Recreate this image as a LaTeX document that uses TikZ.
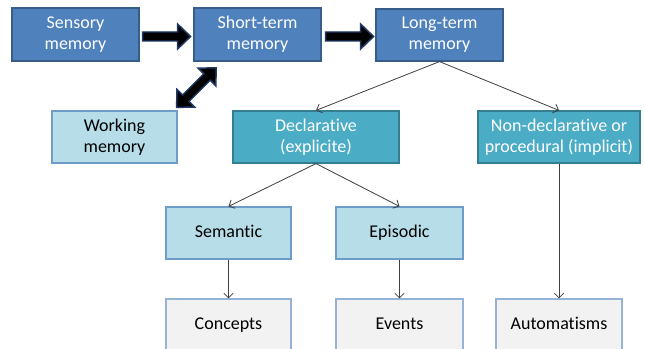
\documentclass[tikz,border=0pt]{standalone}
\usepackage{fontspec}
\setmainfont{Carlito}[Ligatures=NoCommon]
\usetikzlibrary{arrows.meta,calc}
\definecolor{dblue}{HTML}{4F81BD}
\definecolor{dblueB}{HTML}{385D8A}
\definecolor{teal}{HTML}{4BACC6}
\definecolor{tealB}{HTML}{357D91}
\definecolor{lblue}{HTML}{B7DEE8}
\definecolor{lblueB}{HTML}{6E9DC9}
\definecolor{lgray}{HTML}{F2F2F2}
\definecolor{lgrayB}{HTML}{95B3D7}
\definecolor{navy}{HTML}{1F3864}
\definecolor{arrgray}{HTML}{404040}
\begin{document}
\begin{tikzpicture}[x=0.75pt,y=-0.75pt,
  box/.style={draw, line width=0.9pt, inner sep=2pt, align=center,
    font=\fontsize{13.5}{16}\selectfont},
  oneline/.style={text height=8pt, text depth=1.3pt},
  sz/.style 2 args={minimum width=#1*0.75pt, minimum height=#2*0.75pt},
  dbox/.style={box, fill=dblue, draw=dblueB, text=white},
  tbox/.style={box, fill=teal, draw=tealB, text=white},
  lbox/.style={box, fill=lblue, draw=lblueB, text=black},
  gbox/.style={box, fill=lgray, draw=lgrayB, text=black},
  thinarrow/.style={draw=arrgray, line width=0.6pt, -{Straight Barb[length=3.5pt,width=7pt]}},
  blockarrow/.style={fill=black, draw=navy, line width=1.1pt, line join=miter}]
\useasboundingbox (0,0) rectangle (645,349);
\clip (0,0) rectangle (645,349);
\fill[white] (0,0) rectangle (645,349);

\node[dbox, sz={127}{53}] (sens) at (75.5,34.5) {Sensory\\memory};
\node[dbox, sz={127}{53}] (short) at (257.5,34.5) {Short-term\\memory};
\node[dbox, sz={127}{52}] (long) at (439.5,35) {Long-term\\memory};
\node[lbox, sz={125}{52}] (work) at (114.5,137) {Working\\memory};
\node[tbox, sz={166}{52}] (decl) at (316,137) {Declarative\\(explicite)};
\node[tbox, sz={162}{52}] (nondecl) at (559,137) {Non-declarative or\\procedural (implicit)};
\node[lbox, oneline, sz={125}{52}] (sem) at (228.5,233) {Semantic};
\node[lbox, oneline, sz={127}{52}] (epi) at (399.5,233) {Episodic};
\node[gbox, oneline, sz={125}{52}] (conc) at (228.5,325) {Concepts};
\node[gbox, oneline, sz={127}{52}] (ev) at (399.5,325) {Events};
\node[gbox, oneline, sz={126}{52}] (auto) at (559,325) {Automatisms};

% block arrows
\begin{scope}[shift={($(sens.east)+(3,2)$)}]
  \draw[blockarrow] (0,-4.5) -- (35,-4.5) -- (35,-12.5) -- (48,0) -- (35,12.5) -- (35,4.5) -- (0,4.5) -- cycle;
\end{scope}
\begin{scope}[shift={($(short.east)+(4,2)$)}]
  \draw[blockarrow] (0,-4.5) -- (35,-4.5) -- (35,-12.5) -- (48,0) -- (35,12.5) -- (35,4.5) -- (0,4.5) -- cycle;
\end{scope}
\begin{scope}[shift={($(short.south west)+(3,26)$)}, rotate=45]
  \draw[blockarrow] (-28,0) -- (-15,-12.5) -- (-15,-4.5) -- (15,-4.5) -- (15,-12.5) -- (28,0) -- (15,12.5) -- (15,4.5) -- (-15,4.5) -- (-15,12.5) -- cycle;
\end{scope}

% thin connectors
\draw[thinarrow] (long.south) -- (decl.north);
\draw[thinarrow] (long.south) -- (nondecl.north);
\draw[thinarrow] (decl.south) -- (sem.north);
\draw[thinarrow] (decl.south) -- (epi.north);
\draw[thinarrow] (sem.south) -- (conc.north);
\draw[thinarrow] (epi.south) -- (ev.north);
\draw[thinarrow] (nondecl.south) -- (auto.north);
\end{tikzpicture}
\end{document}
